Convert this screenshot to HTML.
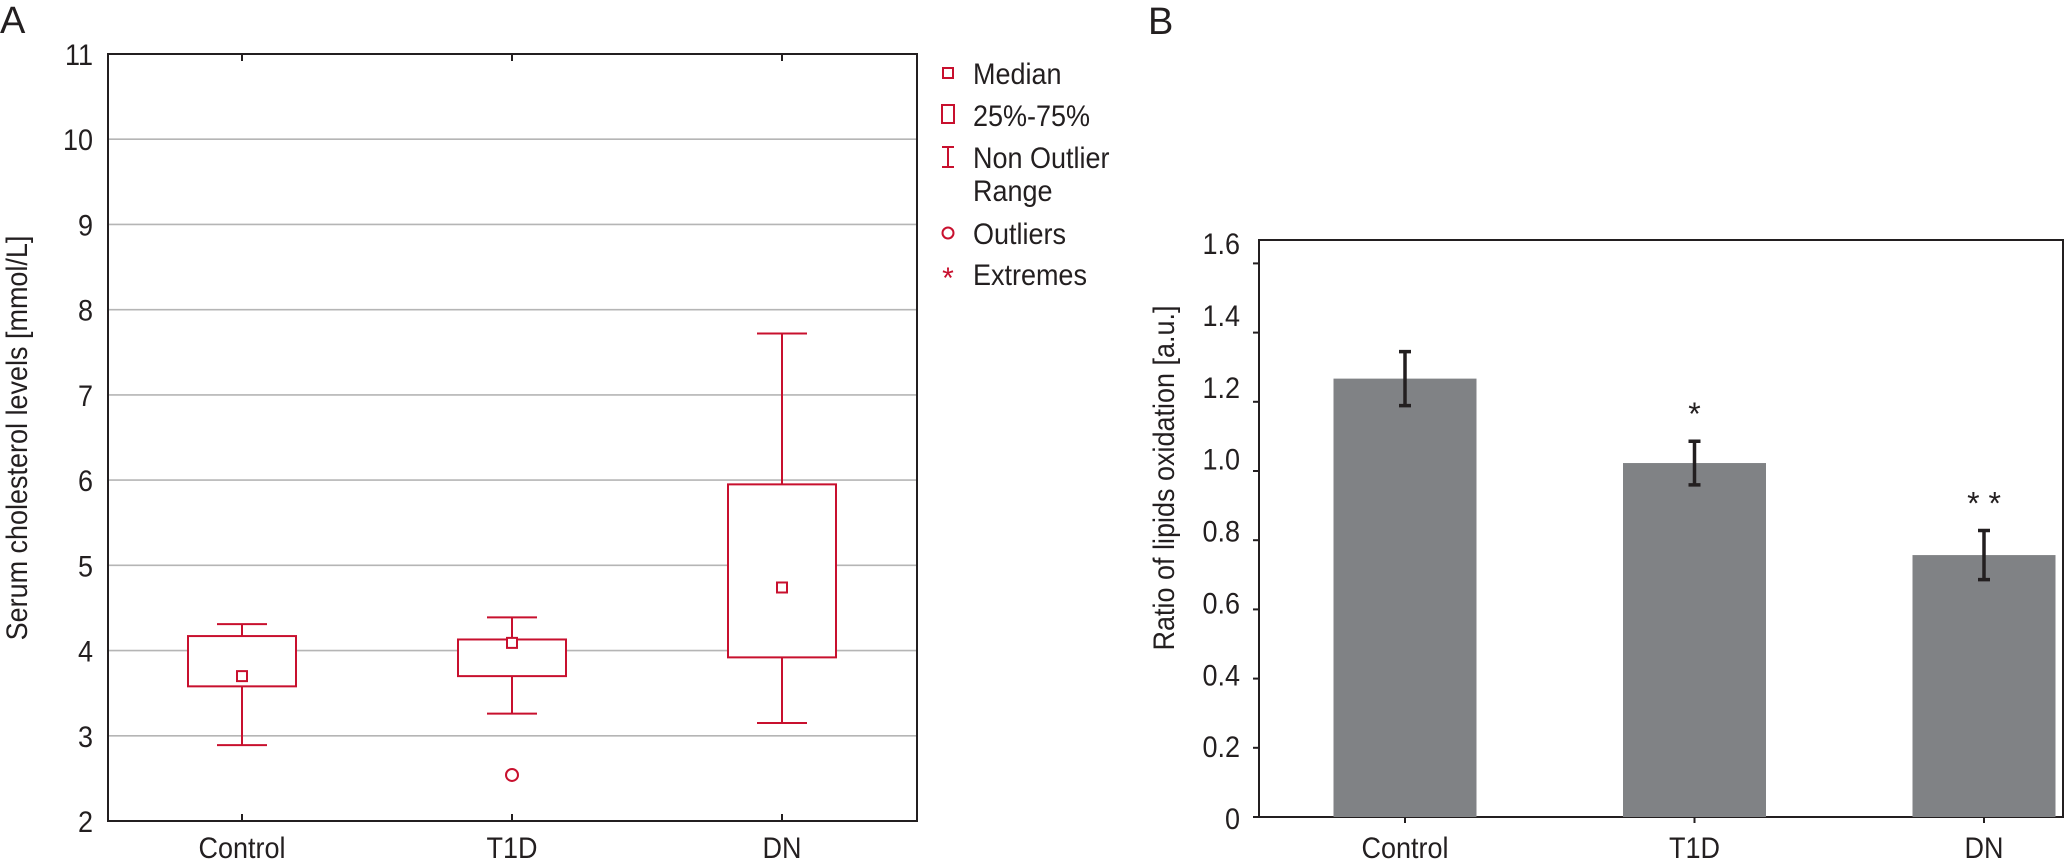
<!DOCTYPE html>
<html><head><meta charset="utf-8">
<style>
html,body{margin:0;padding:0;background:#fff;}
svg{display:block;}
text{font-family:"Liberation Sans",sans-serif;fill:#231f20;}
</style></head>
<body>
<svg id="fig" width="2066" height="862" viewBox="0 0 2066 862" xmlns="http://www.w3.org/2000/svg">
<g id="pa"></g>
<g id="pb"></g>
</svg>
<script>
// Panel A data
const catsA = ["Control","T1D","DN"];
const whiskLo = [2.89, 3.26, 3.15];
const whiskHi = [4.31, 4.39, 7.72];
const q1 = [3.58, 3.70, 3.92];
const q3 = [4.17, 4.13, 5.95];
const medians = [3.70, 4.09, 4.74];
const outliers = [[], [2.54], []];
const ticksA = [2,3,4,5,6,7,8,9,10,11];
// Panel B data
const catsB = ["Control","T1D","DN"];
const means = [1.267, 1.023, 0.757];
const errs = [0.078, 0.063, 0.071];
const sig = ["", "*", "* *"];
const ticksB = [0,0.2,0.4,0.6,0.8,1.0,1.2,1.4,1.6];

const NS="http://www.w3.org/2000/svg";
const SX=0.9;
function mk(parent, tag, attrs, txt){
  const e=document.createElementNS(NS,tag);
  for(const k in attrs) e.setAttribute(k,attrs[k]);
  if(txt!==undefined) e.textContent=txt;
  parent.appendChild(e); return e;
}
function tx(parent,x,y,str,size,anchor,rot){
  return mk(parent,'text',{x:0,y:0,'font-size':size,'text-anchor':anchor||'start',
    transform:`translate(${x},${y})${rot?' rotate(-90)':''} scale(${SX},1)`},str);
}
const RED="#c8102e";
// ---- Panel A ----
const pa=document.getElementById('pa');
const AL=108, AR=917, AT=54, AB=821;
const yA=v=>AB-(v-2)*(AB-AT)/9;
const xA=i=>242+i*270;
let t=mk(pa,'text',{x:0,y:33,'font-size':38,'font-family':'Liberation Sans'},'A');


ticksA.forEach(v=>{
  if(v>2&&v<11){const g=mk(pa,'line',{x1:AL,x2:AR,y1:yA(v),y2:yA(v),stroke:'#b5b5b5','stroke-width':1.6});
  
  }
  const l=tx(pa,93,yA(v)+11,String(v),30,'end');
  
  
});
const frA=mk(pa,'rect',{x:AL,y:AT,width:AR-AL,height:AB-AT,fill:'none',stroke:'#231f20','stroke-width':2});


catsA.forEach((c,i)=>{
  const cx=xA(i), hw=54, cw=25;
  const g=mk(pa,'g',{stroke:RED,'stroke-width':2,fill:'none'});
  
  
  mk(g,'line',{x1:cx,x2:cx,y1:yA(whiskLo[i]),y2:yA(q1[i])});
  mk(g,'line',{x1:cx,x2:cx,y1:yA(q3[i]),y2:yA(whiskHi[i])});
  mk(g,'line',{x1:cx-cw,x2:cx+cw,y1:yA(whiskLo[i]),y2:yA(whiskLo[i])});
  mk(g,'line',{x1:cx-cw,x2:cx+cw,y1:yA(whiskHi[i]),y2:yA(whiskHi[i])});
  mk(g,'rect',{x:cx-hw,y:yA(q3[i]),width:2*hw,height:yA(q1[i])-yA(q3[i]),fill:'#fff'});
  mk(g,'rect',{x:cx-5,y:yA(medians[i])-5,width:10,height:10,fill:'#fff'});
  outliers[i].forEach(o=>mk(g,'circle',{cx:cx,cy:yA(o),r:6,fill:'#fff'}));
  mk(pa,'line',{x1:cx,x2:cx,y1:AT,y2:AT+7,stroke:'#231f20','stroke-width':2});
  mk(pa,'line',{x1:cx,x2:cx,y1:AB,y2:AB-7,stroke:'#231f20','stroke-width':2});
  const l=tx(pa,cx,858,c,30,'middle');
  
  
});
t=tx(pa,27,438,'Serum cholesterol levels [mmol/L]',30,'middle',true);


// legend
const lg=mk(pa,'g',{});


const LX=948, TX=973;
mk(lg,'rect',{x:LX-5,y:68,width:10,height:10,fill:'none',stroke:RED,'stroke-width':2});
tx(lg,TX,84,'Median',30);
mk(lg,'rect',{x:LX-6,y:105,width:12,height:18,fill:'none',stroke:RED,'stroke-width':2});
tx(lg,TX,126,'25%-75%',30);
mk(lg,'path',{d:`M${LX-6} 147 H${LX+6} M${LX} 147 V167 M${LX-6} 167 H${LX+6}`,stroke:RED,'stroke-width':2,fill:'none'});
tx(lg,TX,168,'Non Outlier',30);
tx(lg,TX,201,'Range',30);
mk(lg,'circle',{cx:LX,cy:233,r:5.5,fill:'none',stroke:RED,'stroke-width':2});
tx(lg,TX,244,'Outliers',30);
mk(lg,'text',{x:LX,y:288,'font-size':30,'text-anchor':'middle',style:'fill:'+RED},'*');
tx(lg,TX,285,'Extremes',30);
// ---- Panel B ----
const pb=document.getElementById('pb');
const BL=1259, BR=2063, BT=240, BB=817;
const PER=69.2/0.2;
const yB=v=>BB-v*PER;
const yLab=v=>818-v/1.6*575;
const xB=i=>1405+i*289.5;
t=mk(pb,'text',{x:1148,y:34,'font-size':38,'font-family':'Liberation Sans'},'B');


const frB=mk(pb,'rect',{x:BL,y:BT,width:BR-BL,height:BB-BT,fill:'none',stroke:'#231f20','stroke-width':2});


ticksB.forEach(v=>{
  mk(pb,'line',{x1:BL-6,x2:BL,y1:yB(v),y2:yB(v),stroke:'#231f20','stroke-width':2});
  const l=tx(pb,1240,yLab(v)+11,v===0?'0':v.toFixed(1),30,'end');
  
  
});
catsB.forEach((c,i)=>{
  const cx=xB(i), bw=143;
  const b=mk(pb,'rect',{x:cx-bw/2,y:yB(means[i]),width:bw,height:BB-yB(means[i]),fill:'#808285'});
  
  
  const e=mk(pb,'path',{d:`M${cx-6} ${yB(means[i]+errs[i])} H${cx+6} M${cx} ${yB(means[i]+errs[i])} V${yB(means[i]-errs[i])} M${cx-6} ${yB(means[i]-errs[i])} H${cx+6}`,stroke:'#231f20','stroke-width':3.5,fill:'none'});
  
  
  if(sig[i]){const s=mk(pb,'text',{x:cx,y:yB(means[i]+errs[i])-16,'font-size':32,'text-anchor':'middle'},sig[i]);
  
  }
  mk(pb,'line',{x1:cx,x2:cx,y1:BB,y2:BB+6,stroke:'#231f20','stroke-width':2});
  const l=tx(pb,cx,858,c,30,'middle');
  
  
});
t=tx(pb,1174,478,'Ratio of lipids oxidation [a.u.]',30,'middle',true);


</script>
</body></html>
